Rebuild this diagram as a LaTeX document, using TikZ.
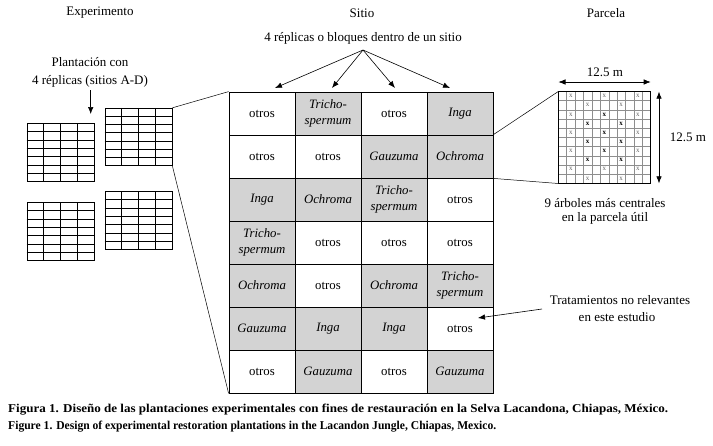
\documentclass[tikz,border=0pt]{standalone}
\usepackage{fontspec}
\setmainfont{Liberation Serif}
\usetikzlibrary{arrows.meta,calc}
\definecolor{cellgray}{HTML}{D3D3D3}
\definecolor{markgray}{HTML}{606060}
\definecolor{linegray}{HTML}{8E8E8E}
\newcommand\trich{Tricho-\\spermum}
\begin{document}
\begin{tikzpicture}[x=1pt,y=-1pt,
  font=\fontsize{13}{15}\selectfont,
  lbl/.style={inner sep=0pt},
  cell/.style={draw, line width=0.8pt, minimum width=66pt, minimum height=43pt, inner sep=0pt, align=center, font=\fontsize{12.8}{15.5}\selectfont},
  gc/.style={cell, fill=cellgray, font=\fontsize{12.8}{15.5}\selectfont\itshape},
  wc/.style={cell, fill=white},
  gridbox/.style={draw, line width=0.9pt, minimum width=67pt, minimum height=57.5pt, inner sep=0pt},
  conn/.style={line width=0.5pt},
  arr/.style={line width=0.6pt, -{Latex[length=7pt,width=5.5pt]}},
  darr/.style={line width=0.6pt, {Latex[length=7pt,width=5.5pt]}-{Latex[length=7pt,width=5.5pt]}},
  mkm/.style={inner sep=0pt, text=markgray, font=\fontsize{7}{7}\selectfont},
  mkb/.style={inner sep=0pt, text=black, font=\fontsize{7}{7}\selectfont\bfseries},
]
\useasboundingbox (0,0) rectangle (713,445);

% titles
\node[lbl] (exp) at (100,13) {Experimento};
\node[lbl] (sit) at (362,13) {Sitio};
\node[lbl] (par) at (606,13) {Parcela};

% central grid
\node[wc] (c11) at (262,113.5) {otros};
\node[gc] (c12) at (328,113.5) {\trich};
\node[wc] (c13) at (394,113.5) {otros};
\node[gc] (c14) at (460,113.5) {Inga};
\node[wc] (c21) at (262,156.5) {otros};
\node[wc] (c22) at (328,156.5) {otros};
\node[gc] (c23) at (394,156.5) {Gauzuma};
\node[gc] (c24) at (460,156.5) {Ochroma};
\node[gc] (c31) at (262,199.5) {Inga};
\node[gc] (c32) at (328,199.5) {Ochroma};
\node[gc] (c33) at (394,199.5) {\trich};
\node[wc] (c34) at (460,199.5) {otros};
\node[gc] (c41) at (262,242.5) {\trich};
\node[wc] (c42) at (328,242.5) {otros};
\node[wc] (c43) at (394,242.5) {otros};
\node[wc] (c44) at (460,242.5) {otros};
\node[gc] (c51) at (262,285.5) {Ochroma};
\node[wc] (c52) at (328,285.5) {otros};
\node[gc] (c53) at (394,285.5) {Ochroma};
\node[gc] (c54) at (460,285.5) {\trich};
\node[gc] (c61) at (262,328.5) {Gauzuma};
\node[gc] (c62) at (328,328.5) {Inga};
\node[gc] (c63) at (394,328.5) {Inga};
\node[wc] (c64) at (460,328.5) {otros};
\node[wc] (c71) at (262,371.5) {otros};
\node[gc] (c72) at (328,371.5) {Gauzuma};
\node[wc] (c73) at (394,371.5) {otros};
\node[gc] (c74) at (460,371.5) {Gauzuma};

% replicas label and fan arrows
\node[lbl] (rep) at (363,38) {4 réplicas o bloques dentro de un sitio};
\coordinate (fan) at (363,50);
\coordinate (t1) at (275,88);
\coordinate (t2) at (332,88);
\coordinate (t3) at (395,88);
\coordinate (t4) at (450,88);
\foreach \t in {t1,t2,t3,t4} \draw[arr] (fan) -- (\t);

% experiment
\node[lbl] (pl1) at (90,62) {Plantación con};
\node[lbl] (pl2) at (90,81) {4 réplicas (sitios A-D)};
\coordinate (pa) at (90.7,90);
\coordinate (pb) at (90.7,114);
\draw[arr] (pa) -- (pb);

\node[gridbox] (g1) at (60.5,152.5) {};
\node[gridbox] (g2) at (138.5,137) {};
\node[gridbox] (g3) at (60.5,231.5) {};
\node[gridbox] (g4) at (138.5,220.5) {};
\foreach \n in {g1,g2,g3,g4} {
  \foreach \i in {1,2,3}
    \draw[line width=0.9pt] ($(\n.north west)!\i/4!(\n.north east)$) -- ($(\n.south west)!\i/4!(\n.south east)$);
  \foreach \j in {1,...,6}
    \draw[line width=0.9pt] ($(\n.north west)!\j/7!(\n.south west)$) -- ($(\n.north east)!\j/7!(\n.south east)$);
}
\draw[conn] (g2.north east) -- (c11.north west);
\draw[conn] (g2.south east) -- (c71.south west);

% parcela
\node[minimum width=92.2pt, minimum height=91.6pt, inner sep=0pt] (p) at (604.6,137.5) {};
\foreach \i in {1,...,10}
  \draw[linegray, line width=0.6pt] ($(p.north west)!\i/11!(p.north east)$) -- ($(p.south west)!\i/11!(p.south east)$);
\foreach \j in {1,...,9}
  \draw[linegray, line width=0.6pt] ($(p.north west)!\j/10!(p.south west)$) -- ($(p.north east)!\j/10!(p.south east)$);
\draw[line width=0.9pt] (p.north west) rectangle (p.south east);
\foreach \i/\j/\s in {1/0/m,5/0/m,9/0/m,3/1/m,7/1/m,
  1/2/m,5/2/b,9/2/m,3/3/b,7/3/b,1/4/m,5/4/b,9/4/m,3/5/b,7/5/b,
  1/6/m,5/6/b,9/6/m,3/7/b,7/7/b,1/8/m,5/8/m,9/8/m,3/9/m,7/9/m}
  \node[mk\s] (x\i-\j) at ($(p.north west)+({(\i+0.5)*92.2/11},{(\j+0.5)*9.16})$) {x};
\coordinate (ha) at (558.5,82);
\coordinate (hb) at (650.7,82);
\draw[darr] (ha) -- (hb);
\coordinate (va) at (659,91.7);
\coordinate (vb) at (659,183.3);
\draw[darr] (va) -- (vb);
\node[lbl] (w1) at (605,72) {12.5 m};
\node[lbl] (w2) at (688,137) {12.5 m};
\draw[conn] (c24.north east) -- (p.north west);
\draw[conn] (c24.south east) -- (p.south west);
\node[lbl] (nine1) at (605,203) {9 árboles más centrales};
\node[lbl] (nine2) at (605,218) {en la parcela útil};

% tratamientos
\node[lbl] (tr1) at (620,300) {Tratamientos no relevantes};
\node[lbl] (tr2) at (617,317) {en este estudio};
\coordinate (ta) at (542,309);
\coordinate (tb) at (478,318);
\draw[arr] (ta) -- (tb);

% caption
\node[lbl, anchor=west] (cap1) at (8,410) {\resizebox{660pt}{\height}{\fontsize{12}{13}\selectfont\bfseries Figura 1. Diseño de las plantaciones experimentales con fines de restauración en la Selva Lacandona, Chiapas, México.}};
\node[lbl, anchor=west] (cap2) at (8,427) {\resizebox{488pt}{\height}{\fontsize{12}{13}\selectfont\bfseries Figure 1. Design of experimental restoration plantations in the Lacandon Jungle, Chiapas, Mexico.}};
\end{tikzpicture}
\end{document}
